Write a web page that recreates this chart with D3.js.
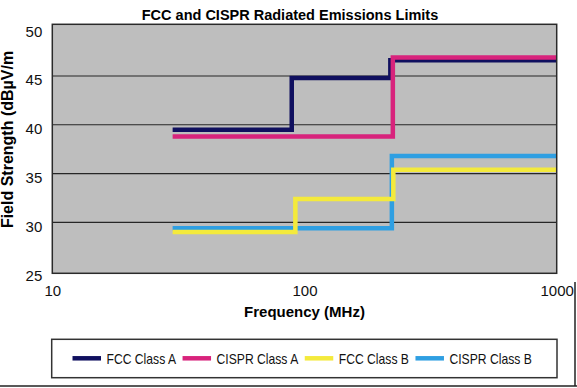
<!DOCTYPE html>
<html>
<head>
<meta charset="utf-8">
<script src="https://cdn.jsdelivr.net/npm/d3@7"></script>
<style>
  body { margin: 0; background: #fff; }
  svg { display: block; font-family: "Liberation Sans", Arial, Helvetica, sans-serif; }
</style>
</head>
<body>
<div id="chart"></div>
<script>
// values (frequency in MHz, level in dBuV/m)
const seriesNames = ["FCC Class A", "CISPR Class A", "FCC Class B", "CISPR Class B"];
const seriesColors = ["#10105f", "#d8237c", "#f4ea3c", "#2f9fe2"];

const fccAFreqs = [30, 89, 219, 1000];
const fccALevels = [39.5, 44.8, 46.6, 46.6];
const cisprAFreqs = [30, 224, 1000];
const cisprALevels = [38.8, 46.9, 46.9];
const fccBFreqs = [30, 92, 225, 1000];
const fccBLevels = [29.0, 32.4, 35.4, 35.4];
const cisprBFreqs = [30, 222, 1000];
const cisprBLevels = [29.4, 36.8, 36.8];

const xTicks = [10, 100, 1000];
const yTicks = [25, 30, 35, 40, 45, 50];
const gridValues = [30, 35, 40, 45];

const series = [
  { name: seriesNames[0], color: seriesColors[0], pts: d3.zip(fccAFreqs, fccALevels) },
  { name: seriesNames[1], color: seriesColors[1], pts: d3.zip(cisprAFreqs, cisprALevels) },
  { name: seriesNames[2], color: seriesColors[2], pts: d3.zip(fccBFreqs, fccBLevels) },
  { name: seriesNames[3], color: seriesColors[3], pts: d3.zip(cisprBFreqs, cisprBLevels) }
];
// drawing order: yellow sits on top of the blue line
const drawOrder = [0, 1, 3, 2];

const W = 577, H = 388;
const plot = { left: 52.3, right: 556.7, top: 24.3, bottom: 273.3 };

const svg = d3.select("#chart").append("svg")
  .attr("width", W)
  .attr("height", H)
  .attr("viewBox", [0, 0, W, H]);

const x = d3.scaleLog().domain([10, 1000]).range([plot.left, plot.right]);
const y = d3.scaleLinear().domain([25, 50]).range([271.1, 27.2]);

// title
svg.append("text")
  .attr("x", 290)
  .attr("y", 19.5)
  .attr("text-anchor", "middle")
  .style("font-size", "14.5px")
  .style("font-weight", "bold")
  .text("FCC and CISPR Radiated Emissions Limits");

// plot background
svg.append("rect")
  .attr("x", plot.left)
  .attr("y", plot.top)
  .attr("width", plot.right - plot.left)
  .attr("height", plot.bottom - plot.top)
  .attr("fill", "#bebebe");

// grid
svg.selectAll(".grid")
  .data(gridValues)
  .join("line")
  .attr("class", "grid")
  .attr("x1", plot.left)
  .attr("x2", plot.right)
  .attr("y1", d => y(d))
  .attr("y2", d => y(d))
  .attr("stroke", "#262626")
  .attr("stroke-width", 1.2);

// step lines
const line = d3.line()
  .x(d => x(d[0]))
  .y(d => y(d[1]))
  .curve(d3.curveStepAfter);

svg.selectAll(".limit")
  .data(drawOrder.map(i => series[i]))
  .join("path")
  .attr("class", "limit")
  .attr("d", d => line(d.pts))
  .attr("fill", "none")
  .attr("stroke", d => d.color)
  .attr("stroke-width", 4.5);

// frame
svg.append("rect")
  .attr("x", plot.left)
  .attr("y", plot.top)
  .attr("width", plot.right - plot.left)
  .attr("height", plot.bottom - plot.top)
  .attr("fill", "none")
  .attr("stroke", "#2a2a2a")
  .attr("stroke-width", 1.5);

// y axis
const yAxis = svg.append("g")
  .attr("transform", `translate(${plot.left},0)`)
  .call(d3.axisLeft(y).tickValues(yTicks).tickSize(0).tickPadding(10));
yAxis.select(".domain").remove();
yAxis.selectAll("text")
  .attr("dy", "0.6em")
  .style("font-size", "15px")
  .style("font-family", "'Liberation Sans', Arial, sans-serif")
  .attr("fill", "#111");

// x axis
const xAxis = svg.append("g")
  .attr("transform", `translate(0,${plot.bottom})`)
  .call(d3.axisBottom(x).tickValues(xTicks).tickFormat(d3.format("d")).tickSize(0).tickPadding(12));
xAxis.select(".domain").remove();
xAxis.selectAll("text")
  .style("font-size", "15px")
  .style("font-family", "'Liberation Sans', Arial, sans-serif")
  .attr("fill", "#111");

// axis titles
svg.append("text")
  .attr("x", (plot.left + plot.right) / 2)
  .attr("y", 317)
  .attr("text-anchor", "middle")
  .style("font-size", "15px")
  .style("font-weight", "bold")
  .text("Frequency (MHz)");

svg.append("text")
  .attr("transform", "translate(13,139.5) rotate(-90)")
  .attr("text-anchor", "middle")
  .style("font-size", "16px")
  .style("font-weight", "bold")
  .text("Field Strength (dB\u00b5V/m");

// outer frame pieces
svg.append("line")
  .attr("x1", 0).attr("x2", W)
  .attr("y1", 386).attr("y2", 386)
  .attr("stroke", "#222").attr("stroke-width", 1.5);
svg.append("line")
  .attr("x1", 575).attr("x2", 575)
  .attr("y1", 282).attr("y2", 386)
  .attr("stroke", "#222").attr("stroke-width", 1.5);

// legend
const legend = { left: 51.7, right: 557, top: 339.3, bottom: 377.7 };
svg.append("rect")
  .attr("x", legend.left)
  .attr("y", legend.top)
  .attr("width", legend.right - legend.left)
  .attr("height", legend.bottom - legend.top)
  .attr("fill", "#fff")
  .attr("stroke", "#333")
  .attr("stroke-width", 1.5);

// the legend font is a condensed one, squeeze the text to ~80% width
const legY = 358.3;
let cx = 72.5;
series.forEach(s => {
  svg.append("line")
    .attr("x1", cx).attr("x2", cx + 28.5)
    .attr("y1", legY).attr("y2", legY)
    .attr("stroke", s.color)
    .attr("stroke-width", 4.5);
  const t = svg.append("text")
    .attr("x", cx + 34)
    .attr("y", legY + 5.3)
    .style("font-size", "15px")
    .attr("fill", "#111")
    .text(s.name);
  const w = t.node().getComputedTextLength() * 0.81;
  t.attr("textLength", w).attr("lengthAdjust", "spacingAndGlyphs");
  cx += 34 + w + 6.5;
});
</script>
</body>
</html>
